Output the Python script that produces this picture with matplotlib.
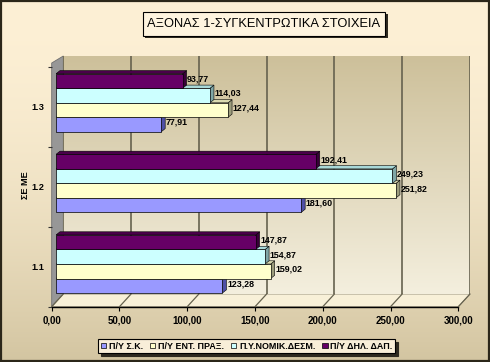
import numpy as np
import matplotlib
matplotlib.use('Agg')
import matplotlib.pyplot as plt
from matplotlib.patches import Polygon, Rectangle, ConnectionPatch

# ---------------- data ----------------
categories = ['1.1', '1.2', '1.3']
series_names = ['Π/Υ Σ.Κ.', 'Π/Υ ΕΝΤ. ΠΡΑΞ.', 'Π.Υ.ΝΟΜΙΚ.ΔΕΣΜ.', 'Π/Υ ΔΗΛ. ΔΑΠ.']
py_sk = [123.28, 181.60, 77.91]
py_ent = [159.02, 251.82, 127.44]
py_nomik = [154.87, 249.23, 114.03]
py_dil = [147.87, 192.41, 93.77]
x_ticks = [0, 50, 100, 150, 200, 250, 300]
x_tick_labels = ['0,00', '50,00', '100,00', '150,00', '200,00', '250,00', '300,00']
title = 'ΑΞΟΝΑΣ 1-ΣΥΓΚΕΝΤΡΩΤΙΚΑ ΣΤΟΙΧΕΙΑ'
ylabel = 'ΣΕ ΜΕ'

# ---------------- style ----------------
W, H = 490, 362
FONT = ['Liberation Sans', 'DejaVu Sans']
plt.rcParams['font.family'] = FONT
colors = ['#9999FF', '#FFFFCC', '#CCFFFF', '#660066']
side_colors = ['#4F4FA6', '#9C9C7C', '#7FA6A6', '#380038']
top_colors = ['#7A7AD6', '#DADAB0', '#A8D8D8', '#4A004A']


def fx(px):
    return px / W


def fy(py):
    return 1 - py / H


fig = plt.figure(figsize=(W / 100, H / 100), dpi=100)

# background (pixel coordinates)
ax_bg = fig.add_axes([0, 0, 1, 1], zorder=-10)
ax_bg.set_xlim(0, W)
ax_bg.set_ylim(H, 0)
ax_bg.axis('off')
t = np.linspace(0, 1, 256)[:, None] ** 1.8
top_c = np.array([0xFD, 0xF0, 0xD5]) / 255
bot_c = np.array([0xD3, 0xC5, 0xA1]) / 255
grad = top_c[None, None, :] * (1 - t[..., None]) + bot_c[None, None, :] * t[..., None]
grad = np.repeat(grad, 2, axis=1)
ax_bg.imshow(grad, extent=[0, W, H, 0], aspect='auto', zorder=0)

# geometry of 3D box (pixels)
FL, FR, FB, FT = 51.7, 458.3, 306.7, 67.0   # front plane
BL, BR, BB, BT = 63.3, 470.0, 294.0, 56.0   # back wall

# left wall
ax_bg.add_patch(Polygon([(FL, 63.0), (BL, BT), (BL, BB), (FL, FB)], closed=True,
                        facecolor='#979797', edgecolor='#6E6E6E', lw=0.6, zorder=2))
# floor
ax_bg.add_patch(Polygon([(FL, FB), (FR, FB), (BR, BB), (BL, BB)], closed=True,
                        facecolor='#F8F0D8', edgecolor='#8A8470', lw=0.6, zorder=2))

# back wall axes
ax_back = fig.add_axes([fx(BL), fy(BB), (BR - BL) / W, (BB - BT) / H], zorder=-5)
wt = np.linspace(0, 1, 256)[:, None]
wtop = np.array([0xCD, 0xC0, 0x9A]) / 255
wbot = np.array([0xF4, 0xEF, 0xDE]) / 255
wgrad = wtop[None, None, :] * (1 - wt[..., None]) + wbot[None, None, :] * wt[..., None]
wgrad = np.repeat(wgrad, 2, axis=1)
ax_back.imshow(wgrad, extent=[0, 300, 0, 1], aspect='auto', zorder=0)
ax_back.set_xlim(0, 300)
ax_back.set_ylim(0, 1)
ax_back.set_xticks(x_ticks)
ax_back.set_yticks([])
ax_back.tick_params(length=0, labelbottom=False)
ax_back.grid(axis='x', color='#66624F', lw=1.2, zorder=1)
ax_back.set_axisbelow(False)
for s in ax_back.spines.values():
    s.set_visible(False)

# front axes: x tick labels and category labels
ax_front = fig.add_axes([fx(FL), fy(FB), (FR - FL) / W, (FB - FT) / H], zorder=-4)
ax_front.patch.set_visible(False)
ax_front.set_xlim(0, 300)
ax_front.set_ylim(-0.5, 2.5)
ax_front.set_xticks(x_ticks)
ax_front.set_xticklabels(x_tick_labels, fontsize=7, fontweight='bold')
ax_front.tick_params(axis='x', length=3, width=0.8, color='black', pad=3.5)
ax_front.set_yticks([0, 1, 2])
ax_front.set_yticklabels(categories, fontsize=6.6, fontweight='bold')
ax_front.set_yticks([-0.5, 0.5, 1.5, 2.5], minor=True)
ax_front.tick_params(axis='y', which='major', length=0, pad=5)
ax_front.tick_params(axis='y', which='minor', length=3, width=0.8, color='#333333')
for k in ['top', 'right', 'left']:
    ax_front.spines[k].set_visible(False)
ax_front.spines['bottom'].set_color('black')
ax_front.spines['bottom'].set_linewidth(1.0)

# floor grid diagonals
for tk in x_ticks:
    con = ConnectionPatch(xyA=(tk, -0.5), coordsA='data', axesA=ax_front,
                          xyB=(tk, 0), coordsB='data', axesB=ax_back,
                          color='#66624F', lw=0.9)
    fig.add_artist(con)

# bars axes
BX0, BX1, BY_TOP, BY_BOT = 56.0, 461.0, 62.5, 304.3
ax_bar = fig.add_axes([fx(BX0), fy(BY_BOT), (BX1 - BX0) / W, (BY_BOT - BY_TOP) / H], zorder=5)
ax_bar.set_xlim(0, 300)
ax_bar.set_ylim(-0.5, 2.5)
ax_bar.axis('off')

bar_h = 0.18
offsets = [-1.5, -0.5, 0.5, 1.5]
series = [py_sk, py_ent, py_nomik, py_dil]
depth_x = 4.0 * 300 / (BX1 - BX0)
depth_y = 3.2 * 3 / (BY_BOT - BY_TOP)
ypos = np.arange(len(categories))

handles = []
for si, vals in enumerate(series):
    yc = ypos + offsets[si] * bar_h
    for ci, v in enumerate(vals):
        y0 = yc[ci] - bar_h / 2
        y1 = yc[ci] + bar_h / 2
        ax_bar.add_patch(Polygon([(v, y0), (v, y1), (v + depth_x, y1 + depth_y), (v + depth_x, y0 + depth_y)],
                                 closed=True, facecolor=side_colors[si], edgecolor='black', lw=0.4))
        ax_bar.add_patch(Polygon([(0, y1), (v, y1), (v + depth_x, y1 + depth_y), (depth_x, y1 + depth_y)],
                                 closed=True, facecolor=top_colors[si], edgecolor='black', lw=0.4))
    b = ax_bar.barh(yc, vals, height=bar_h, color=colors[si], edgecolor='black', lw=0.5,
                    label=series_names[si])
    handles.append(b)
    for ci, v in enumerate(vals):
        ax_bar.annotate(f'{v:.2f}'.replace('.', ','), xy=(v, yc[ci]), xytext=(3.3, 1.5),
                        textcoords='offset points', ha='left', va='center',
                        fontsize=6.4, fontweight='bold', color='black')

# y label
fig.text(fx(25), fy(185), ylabel, rotation=90, ha='center', va='center',
         fontsize=6.6, fontweight='bold')

# title box
ax_bg.add_patch(Rectangle((145.2, 14.2), 242.3, 24.3, facecolor='#2E2A20', edgecolor='none', zorder=3))
ax_bg.add_patch(Rectangle((142.7, 11.7), 242.3, 24.3, facecolor='#FEF4DF', edgecolor='black', lw=0.8, zorder=4))
ax_bg.text(263.9, 24.3, title, ha='center', va='center', fontsize=9.3, zorder=5)

# legend
leg = fig.legend(handles=[h.patches[0] for h in handles], labels=series_names,
                 loc='center', bbox_to_anchor=(fx(246.7), fy(346.3)), ncol=4,
                 prop={'weight': 'bold', 'size': 6.4},
                 handlelength=0.6, handleheight=0.6, handletextpad=0.3,
                 columnspacing=0.8, borderpad=0.3, fancybox=False,
                 frameon=True, edgecolor='black', facecolor='#F8EED8', framealpha=1,
                 shadow={'color': '#2E2A20', 'alpha': 1})
leg.get_frame().set_linewidth(0.8)

# outer border
ax_bg.add_patch(Rectangle((0.8, 0.8), W - 1.6, H - 1.6, fill=False, edgecolor='#2B2619', lw=1.6, zorder=20))

fig.savefig('out.png', dpi=100)
